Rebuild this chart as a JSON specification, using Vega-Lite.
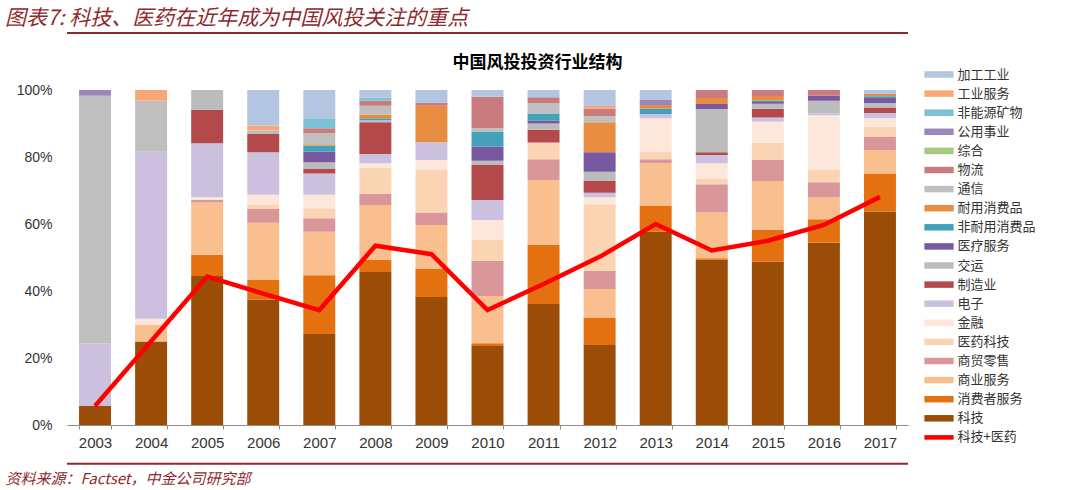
{
  "$schema": "https://vega.github.io/schema/vega-lite/v6.json",
  "autosize": "none",
  "width": 841,
  "height": 335,
  "padding": {"left": 67, "top": 90, "right": 172, "bottom": 65},
  "background": "white",
  "title": {
    "text": "图表7: 科技、医药在近年成为中国风投关注的重点",
    "anchor": "start",
    "frame": "group",
    "dx": -62,
    "dy": -3,
    "offset": 0,
    "font": "Noto Sans CJK SC",
    "fontSize": 21,
    "fontStyle": "italic",
    "fontWeight": "normal",
    "color": "#8E2A2E"
  },
  "config": {
    "view": {"stroke": null},
    "font": "Liberation Sans"
  },
  "datasets": {
    "cats": [
      {"cat": "科技", "rank": 1},
      {"cat": "消费者服务", "rank": 2},
      {"cat": "商业服务", "rank": 3},
      {"cat": "商贸零售", "rank": 4},
      {"cat": "医药科技", "rank": 5},
      {"cat": "金融", "rank": 6},
      {"cat": "电子", "rank": 7},
      {"cat": "制造业", "rank": 8},
      {"cat": "交运", "rank": 9},
      {"cat": "医疗服务", "rank": 10},
      {"cat": "非耐用消费品", "rank": 11},
      {"cat": "耐用消费品", "rank": 12},
      {"cat": "通信", "rank": 13},
      {"cat": "物流", "rank": 14},
      {"cat": "综合", "rank": 15},
      {"cat": "公用事业", "rank": 16},
      {"cat": "非能源矿物", "rank": 17},
      {"cat": "工业服务", "rank": 18},
      {"cat": "加工工业", "rank": 19}
    ],
    "bars": [
      {"year": "2003", "cat": "科技", "value": 5.7},
      {"year": "2003", "cat": "电子", "value": 18.7},
      {"year": "2003", "cat": "通信", "value": 73.9},
      {"year": "2003", "cat": "公用事业", "value": 1.7},

      {"year": "2004", "cat": "科技", "value": 24.9},
      {"year": "2004", "cat": "商业服务", "value": 5.1},
      {"year": "2004", "cat": "金融", "value": 1.7},
      {"year": "2004", "cat": "电子", "value": 49.9},
      {"year": "2004", "cat": "通信", "value": 15.2},
      {"year": "2004", "cat": "工业服务", "value": 3.2},

      {"year": "2005", "cat": "科技", "value": 44.5},
      {"year": "2005", "cat": "消费者服务", "value": 6.3},
      {"year": "2005", "cat": "商业服务", "value": 15.6},
      {"year": "2005", "cat": "商贸零售", "value": 0.8},
      {"year": "2005", "cat": "金融", "value": 0.8},
      {"year": "2005", "cat": "电子", "value": 16.1},
      {"year": "2005", "cat": "制造业", "value": 10.0},
      {"year": "2005", "cat": "交运", "value": 5.9},

      {"year": "2006", "cat": "科技", "value": 37.5},
      {"year": "2006", "cat": "消费者服务", "value": 5.8},
      {"year": "2006", "cat": "商业服务", "value": 17.1},
      {"year": "2006", "cat": "商贸零售", "value": 4.1},
      {"year": "2006", "cat": "医药科技", "value": 1.2},
      {"year": "2006", "cat": "金融", "value": 3.0},
      {"year": "2006", "cat": "电子", "value": 12.7},
      {"year": "2006", "cat": "制造业", "value": 5.5},
      {"year": "2006", "cat": "交运", "value": 1.0},
      {"year": "2006", "cat": "工业服务", "value": 1.5},
      {"year": "2006", "cat": "加工工业", "value": 10.6},

      {"year": "2007", "cat": "科技", "value": 27.2},
      {"year": "2007", "cat": "消费者服务", "value": 17.5},
      {"year": "2007", "cat": "商业服务", "value": 13.0},
      {"year": "2007", "cat": "商贸零售", "value": 4.0},
      {"year": "2007", "cat": "医药科技", "value": 3.0},
      {"year": "2007", "cat": "金融", "value": 4.0},
      {"year": "2007", "cat": "电子", "value": 6.4},
      {"year": "2007", "cat": "制造业", "value": 1.5},
      {"year": "2007", "cat": "交运", "value": 1.8},
      {"year": "2007", "cat": "医疗服务", "value": 3.2},
      {"year": "2007", "cat": "非耐用消费品", "value": 1.8},
      {"year": "2007", "cat": "耐用消费品", "value": 0.4},
      {"year": "2007", "cat": "通信", "value": 3.3},
      {"year": "2007", "cat": "物流", "value": 1.5},
      {"year": "2007", "cat": "非能源矿物", "value": 3.0},
      {"year": "2007", "cat": "加工工业", "value": 8.4},

      {"year": "2008", "cat": "科技", "value": 45.7},
      {"year": "2008", "cat": "消费者服务", "value": 3.6},
      {"year": "2008", "cat": "商业服务", "value": 16.4},
      {"year": "2008", "cat": "商贸零售", "value": 3.3},
      {"year": "2008", "cat": "医药科技", "value": 7.8},
      {"year": "2008", "cat": "金融", "value": 1.3},
      {"year": "2008", "cat": "电子", "value": 2.8},
      {"year": "2008", "cat": "制造业", "value": 9.5},
      {"year": "2008", "cat": "交运", "value": 0.6},
      {"year": "2008", "cat": "非耐用消费品", "value": 0.6},
      {"year": "2008", "cat": "耐用消费品", "value": 1.1},
      {"year": "2008", "cat": "通信", "value": 2.6},
      {"year": "2008", "cat": "物流", "value": 1.5},
      {"year": "2008", "cat": "非能源矿物", "value": 0.9},
      {"year": "2008", "cat": "加工工业", "value": 2.3},

      {"year": "2009", "cat": "科技", "value": 38.2},
      {"year": "2009", "cat": "消费者服务", "value": 8.5},
      {"year": "2009", "cat": "商业服务", "value": 13.0},
      {"year": "2009", "cat": "商贸零售", "value": 3.7},
      {"year": "2009", "cat": "医药科技", "value": 12.7},
      {"year": "2009", "cat": "金融", "value": 3.0},
      {"year": "2009", "cat": "电子", "value": 5.3},
      {"year": "2009", "cat": "耐用消费品", "value": 10.9},
      {"year": "2009", "cat": "物流", "value": 1.0},
      {"year": "2009", "cat": "加工工业", "value": 3.7},

      {"year": "2010", "cat": "科技", "value": 23.6},
      {"year": "2010", "cat": "消费者服务", "value": 0.8},
      {"year": "2010", "cat": "商业服务", "value": 14.1},
      {"year": "2010", "cat": "商贸零售", "value": 10.5},
      {"year": "2010", "cat": "医药科技", "value": 6.4},
      {"year": "2010", "cat": "金融", "value": 5.8},
      {"year": "2010", "cat": "电子", "value": 6.0},
      {"year": "2010", "cat": "制造业", "value": 10.4},
      {"year": "2010", "cat": "交运", "value": 1.3},
      {"year": "2010", "cat": "医疗服务", "value": 4.2},
      {"year": "2010", "cat": "非耐用消费品", "value": 4.5},
      {"year": "2010", "cat": "通信", "value": 1.0},
      {"year": "2010", "cat": "物流", "value": 9.4},
      {"year": "2010", "cat": "加工工业", "value": 2.0},

      {"year": "2011", "cat": "科技", "value": 36.1},
      {"year": "2011", "cat": "消费者服务", "value": 17.6},
      {"year": "2011", "cat": "商业服务", "value": 19.4},
      {"year": "2011", "cat": "商贸零售", "value": 6.2},
      {"year": "2011", "cat": "医药科技", "value": 5.0},
      {"year": "2011", "cat": "制造业", "value": 3.8},
      {"year": "2011", "cat": "交运", "value": 1.9},
      {"year": "2011", "cat": "医疗服务", "value": 0.9},
      {"year": "2011", "cat": "非耐用消费品", "value": 2.1},
      {"year": "2011", "cat": "通信", "value": 3.1},
      {"year": "2011", "cat": "物流", "value": 1.7},
      {"year": "2011", "cat": "加工工业", "value": 2.2},

      {"year": "2012", "cat": "科技", "value": 23.9},
      {"year": "2012", "cat": "消费者服务", "value": 8.2},
      {"year": "2012", "cat": "商业服务", "value": 8.5},
      {"year": "2012", "cat": "商贸零售", "value": 5.4},
      {"year": "2012", "cat": "医药科技", "value": 19.9},
      {"year": "2012", "cat": "金融", "value": 2.1},
      {"year": "2012", "cat": "电子", "value": 1.3},
      {"year": "2012", "cat": "制造业", "value": 3.5},
      {"year": "2012", "cat": "交运", "value": 2.8},
      {"year": "2012", "cat": "医疗服务", "value": 5.8},
      {"year": "2012", "cat": "耐用消费品", "value": 9.0},
      {"year": "2012", "cat": "通信", "value": 1.8},
      {"year": "2012", "cat": "物流", "value": 2.3},
      {"year": "2012", "cat": "工业服务", "value": 0.7},
      {"year": "2012", "cat": "加工工业", "value": 4.8},

      {"year": "2013", "cat": "科技", "value": 57.7},
      {"year": "2013", "cat": "消费者服务", "value": 7.7},
      {"year": "2013", "cat": "商业服务", "value": 12.7},
      {"year": "2013", "cat": "商贸零售", "value": 1.2},
      {"year": "2013", "cat": "医药科技", "value": 2.3},
      {"year": "2013", "cat": "金融", "value": 10.0},
      {"year": "2013", "cat": "电子", "value": 1.2},
      {"year": "2013", "cat": "非耐用消费品", "value": 1.7},
      {"year": "2013", "cat": "耐用消费品", "value": 1.0},
      {"year": "2013", "cat": "公用事业", "value": 1.5},
      {"year": "2013", "cat": "加工工业", "value": 3.0},

      {"year": "2014", "cat": "科技", "value": 49.3},
      {"year": "2014", "cat": "消费者服务", "value": 0.5},
      {"year": "2014", "cat": "商业服务", "value": 13.6},
      {"year": "2014", "cat": "商贸零售", "value": 8.5},
      {"year": "2014", "cat": "医药科技", "value": 1.5},
      {"year": "2014", "cat": "金融", "value": 4.7},
      {"year": "2014", "cat": "电子", "value": 2.5},
      {"year": "2014", "cat": "制造业", "value": 0.8},
      {"year": "2014", "cat": "交运", "value": 12.9},
      {"year": "2014", "cat": "医疗服务", "value": 1.5},
      {"year": "2014", "cat": "耐用消费品", "value": 1.8},
      {"year": "2014", "cat": "物流", "value": 2.4},

      {"year": "2015", "cat": "科技", "value": 48.8},
      {"year": "2015", "cat": "消费者服务", "value": 9.4},
      {"year": "2015", "cat": "商业服务", "value": 14.6},
      {"year": "2015", "cat": "商贸零售", "value": 6.3},
      {"year": "2015", "cat": "医药科技", "value": 5.2},
      {"year": "2015", "cat": "金融", "value": 6.2},
      {"year": "2015", "cat": "电子", "value": 1.3},
      {"year": "2015", "cat": "制造业", "value": 2.6},
      {"year": "2015", "cat": "交运", "value": 1.5},
      {"year": "2015", "cat": "医疗服务", "value": 0.5},
      {"year": "2015", "cat": "非耐用消费品", "value": 0.5},
      {"year": "2015", "cat": "耐用消费品", "value": 1.3},
      {"year": "2015", "cat": "物流", "value": 1.8},

      {"year": "2016", "cat": "科技", "value": 54.4},
      {"year": "2016", "cat": "消费者服务", "value": 7.0},
      {"year": "2016", "cat": "商业服务", "value": 6.6},
      {"year": "2016", "cat": "商贸零售", "value": 4.5},
      {"year": "2016", "cat": "医药科技", "value": 3.6},
      {"year": "2016", "cat": "金融", "value": 16.4},
      {"year": "2016", "cat": "电子", "value": 0.5},
      {"year": "2016", "cat": "交运", "value": 3.8},
      {"year": "2016", "cat": "医疗服务", "value": 1.5},
      {"year": "2016", "cat": "物流", "value": 1.7},

      {"year": "2017", "cat": "科技", "value": 63.7},
      {"year": "2017", "cat": "消费者服务", "value": 11.4},
      {"year": "2017", "cat": "商业服务", "value": 7.0},
      {"year": "2017", "cat": "商贸零售", "value": 4.0},
      {"year": "2017", "cat": "医药科技", "value": 3.0},
      {"year": "2017", "cat": "金融", "value": 2.5},
      {"year": "2017", "cat": "电子", "value": 1.5},
      {"year": "2017", "cat": "制造业", "value": 1.7},
      {"year": "2017", "cat": "交运", "value": 1.3},
      {"year": "2017", "cat": "医疗服务", "value": 1.5},
      {"year": "2017", "cat": "非耐用消费品", "value": 0.5},
      {"year": "2017", "cat": "耐用消费品", "value": 0.7},
      {"year": "2017", "cat": "加工工业", "value": 1.2}
    ],
    "line": [
      {"year": "2003", "value": 5.7},
      {"year": "2004", "value": 25.0},
      {"year": "2005", "value": 44.3},
      {"year": "2006", "value": 39.2},
      {"year": "2007", "value": 34.3},
      {"year": "2008", "value": 53.5},
      {"year": "2009", "value": 51.0},
      {"year": "2010", "value": 34.3},
      {"year": "2011", "value": 42.1},
      {"year": "2012", "value": 50.2},
      {"year": "2013", "value": 60.0},
      {"year": "2014", "value": 52.1},
      {"year": "2015", "value": 55.0},
      {"year": "2016", "value": 59.7},
      {"year": "2017", "value": 68.1}
    ]
  },
  "layer": [
    {
      "data": {"name": "bars"},
      "transform": [
        {"lookup": "cat", "from": {"data": {"name": "cats"}, "key": "cat", "fields": ["rank"]}}
      ],
      "mark": {"type": "bar"},
      "encoding": {
        "x": {
          "field": "year",
          "type": "ordinal",
          "scale": {"paddingInner": 0.43, "paddingOuter": 0.215},
          "axis": {
            "labelAngle": 0,
            "labelFont": "Liberation Sans",
            "labelFontSize": 15,
            "labelColor": "#333333",
            "labelPadding": 6,
            "tickBand": "extent",
            "tickSize": 4,
            "tickColor": "#8c8c8c",
            "domainColor": "#8c8c8c",
            "grid": false,
            "title": "资料来源：Factset，中金公司研究部",
            "titleX": -62,
            "titleY": 53,
            "titleAlign": "left",
            "titleAnchor": null,
            "titleBaseline": "middle",
            "titleFont": "Noto Sans CJK SC",
            "titleFontSize": 15,
            "titleFontStyle": "italic",
            "titleFontWeight": "normal",
            "titleColor": "#8E2A2E"
          }
        },
        "y": {
          "field": "value",
          "type": "quantitative",
          "stack": "zero",
          "scale": {"domain": [0, 100], "nice": false},
          "axis": {
            "values": [0, 20, 40, 60, 80, 100],
            "labelExpr": "datum.value + '%'",
            "labelFont": "Liberation Sans",
            "labelFontSize": 14,
            "labelColor": "#333333",
            "labelPadding": 15,
            "domain": false,
            "ticks": false,
            "grid": false,
            "title": "中国风投投资行业结构",
            "titleAngle": 0,
            "titleX": 470,
            "titleY": -28,
            "titleAlign": "center",
            "titleBaseline": "middle",
            "titleFont": "Noto Sans CJK SC",
            "titleFontSize": 17,
            "titleFontWeight": "bold",
            "titleColor": "#000000"
          }
        },
        "order": {"field": "rank", "type": "quantitative", "sort": "ascending"},
        "color": {
          "field": "cat",
          "type": "nominal",
          "scale": {
            "domain": ["加工工业", "工业服务", "非能源矿物", "公用事业", "综合", "物流", "通信", "耐用消费品", "非耐用消费品", "医疗服务", "交运", "制造业", "电子", "金融", "医药科技", "商贸零售", "商业服务", "消费者服务", "科技", "科技+医药"],
            "range": ["#B4C5E1", "#F8A877", "#7EC1D4", "#9B86BC", "#A7C97F", "#C97B7D", "#BFBFBF", "#E88C42", "#43A2BA", "#7659A0", "#BCBCBC", "#B3494B", "#CBC1DF", "#FDE7DA", "#FBD4B4", "#DA979A", "#F9BF8F", "#E4700F", "#9B4D07", "#FF0000"]
          },
          "legend": {
            "title": null,
            "orient": "none",
            "legendX": 865.5,
            "legendY": -22,
            "padding": 0,
            "symbolType": "M-4.5,-1H4.5V1H-4.5Z",
            "symbolSize": 42.25,
            "symbolStrokeWidth": 0,
            "labelFont": "Noto Sans CJK SC",
            "labelFontSize": 13,
            "labelColor": "#333333",
            "labelOffset": 12,
            "rowPadding": 5.1,
            "encode": {
              "symbols": {
                "update": {
                  "shape": {"signal": "datum.label === '科技+医药' ? 'M-4.5,-0.7H4.5V0.7H-4.5Z' : 'M-4.5,-1H4.5V1H-4.5Z'"}
                }
              }
            }
          }
        }
      }
    },
    {
      "data": {"name": "line"},
      "mark": {"type": "line", "strokeWidth": 4.5, "strokeJoin": "miter", "strokeCap": "butt"},
      "encoding": {
        "x": {"field": "year", "type": "ordinal"},
        "y": {"field": "value", "type": "quantitative", "scale": {"domain": [0, 100], "nice": false}},
        "color": {"datum": "科技+医药", "legend": null}
      }
    },
    {
      "data": {"values": [{}]},
      "mark": {"type": "rule", "color": "#8E2A2E", "strokeWidth": 2},
      "encoding": {"y": {"datum": 117.0, "type": "quantitative"}}
    },
    {
      "data": {"values": [{}]},
      "mark": {"type": "rule", "color": "#8E2A2E", "strokeWidth": 2},
      "encoding": {"y": {"datum": -11.6, "type": "quantitative"}}
    }
  ]
}
